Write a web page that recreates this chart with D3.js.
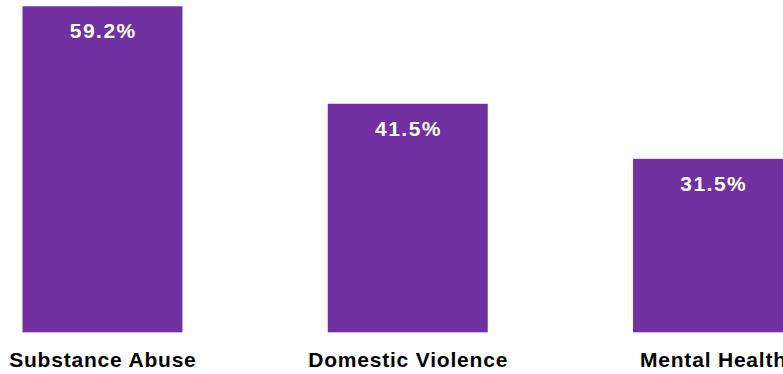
<!DOCTYPE html>
<html>
<head>
<meta charset="utf-8">
<script src="https://cdn.jsdelivr.net/npm/d3@7"></script>
<style>
  html, body { margin: 0; padding: 0; background: #ffffff; overflow: hidden; }
  svg { display: block; }
  text { font-family: "Liberation Sans", Arial, Helvetica, sans-serif; font-weight: bold; }
</style>
</head>
<body>
<svg id="chart" width="783" height="374"></svg>
<script>
// Share of cases by issue type (percent)
const categories = ["Substance Abuse", "Domestic Violence", "Mental Health"];
const values = [59.2, 41.5, 31.5];
const valueLabels = ["59.2%", "41.5%", "31.5%"];

const width = 783, height = 374;
const baseline = 332.3;
const barColor = "#7030A0";
const valueSpacing = 1.5;
const catSpacing = 0.8;

const svg = d3.select("#chart");

const x = d3.scaleBand()
  .domain(categories)
  .range([22.5, 793])
  .paddingInner(0.476)
  .paddingOuter(0);

const y = d3.scaleLinear()
  .domain([0, 59.2])
  .range([baseline, 6.3]);

const data = categories.map((c, i) => ({ c, v: values[i], label: valueLabels[i] }));

svg.selectAll("rect.bar")
  .data(data)
  .join("rect")
  .attr("class", "bar")
  .attr("x", d => x(d.c))
  .attr("y", d => y(d.v))
  .attr("width", x.bandwidth())
  .attr("height", d => baseline - y(d.v))
  .attr("fill", barColor);

// Value labels inside the top of each bar (trailing letter-spacing offset by half)
svg.selectAll("text.value")
  .data(data)
  .join("text")
  .attr("class", "value")
  .attr("x", d => x(d.c) + x.bandwidth() / 2 + valueSpacing / 2)
  .attr("y", d => y(d.v) + 31.8)
  .attr("text-anchor", "middle")
  .attr("fill", "#ffffff")
  .attr("font-size", 21)
  .attr("letter-spacing", valueSpacing)
  .text(d => d.label);

// Category axis labels beneath the bars
const axis = d3.axisBottom(x).tickSize(0).tickPadding(0);
const gx = svg.append("g")
  .attr("transform", `translate(0,${baseline})`)
  .call(axis);
gx.select(".domain").remove();
gx.selectAll(".tick text")
  .attr("x", catSpacing / 2)
  .attr("y", 0)
  .attr("dy", 34.5)
  .attr("fill", "#000000")
  .attr("font-size", 21)
  .attr("letter-spacing", catSpacing)
  .attr("font-family", "\"Liberation Sans\", Arial, Helvetica, sans-serif")
  .attr("font-weight", "bold");
</script>
</body>
</html>
